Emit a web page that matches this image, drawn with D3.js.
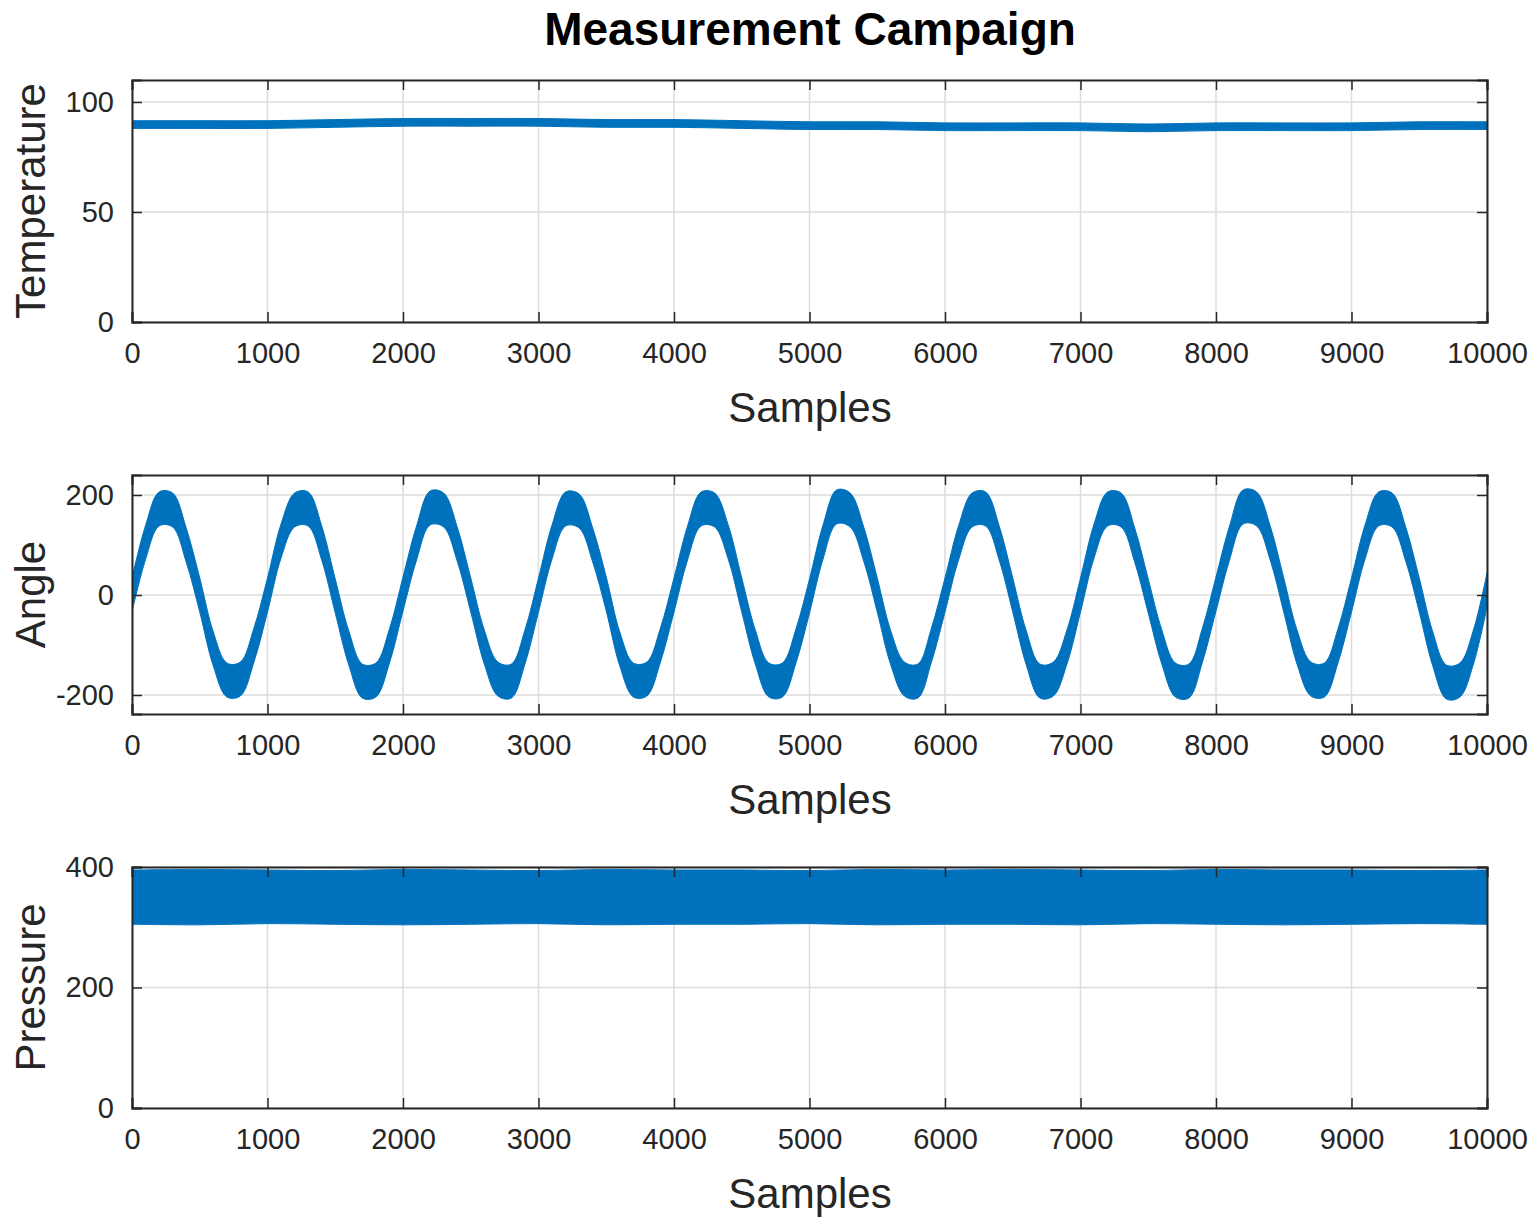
<!DOCTYPE html>
<html><head><meta charset="utf-8">
<script src="https://cdn.jsdelivr.net/npm/d3@7"></script>
<style>body{margin:0;background:#fff}svg{font-family:"Liberation Sans",Arial,sans-serif}</style>
</head><body><svg id="c" width="1537" height="1222"></svg>
<script>
// samples at which the band values below were read (every 500 samples for temp/pressure, 100 for angle)
const coarseX = d3.range(0, 10001, 500);
const tempLow  = [88,88,88,88.5,89,89,89,88.5,88.5,88,87.5,87.5,87,87,87,86.5,87,87,87,87.5,87.5];
const tempHigh = [91.5,91.5,91.5,92,92.5,92.5,92.5,92,92,91.5,91,91,90.5,90.5,90.5,90,90.5,90.5,90.5,91,91];
const pressLow  = [305,304,306,305,304,305,306,304,305,305,306,304,305,305,304,306,305,304,305,306,305];
const pressHigh = [395,396,395,394,396,395,394,396,395,395,394,396,395,396,395,394,396,395,395,394,395];
const angleX = d3.range(0, 10001, 100);
const angleMid = [
  0,105,172,170,100,0,-108,-170,-168,-100,
  0,108,170,172,104,-2,-106,-172,-170,-102,
  2,104,174,170,102,0,-104,-168,-172,-104,
  0,106,172,168,100,2,-108,-170,-168,-100,
  0,104,172,170,106,0,-104,-170,-170,-102,
  -2,106,176,170,102,0,-106,-168,-172,-100,
  0,104,170,172,104,0,-106,-172,-168,-104,
  0,108,172,170,100,-2,-104,-170,-172,-100,
  2,104,176,172,104,0,-106,-168,-170,-102,
  0,106,172,170,102,0,-108,-174,-170,-104,
  10];
const angleSpread = 34;
const xTicks = d3.range(0, 10001, 1000);

const blue = '#0072BD';
const svg = d3.select('#c');
svg.append('text').attr('x', 810).attr('y', 45).attr('text-anchor', 'middle')
  .attr('font-size', 46).attr('font-weight', 'bold').text('Measurement Campaign');

const panels = [
  { top: 80, bottom: 322, domain: [0, 110], ticks: [0, 50, 100], label: 'Temperature',
    band: coarseX.map((x, i) => ({ x, lo: tempLow[i], hi: tempHigh[i] })) },
  { top: 475, bottom: 714, domain: [-238, 240], ticks: [-200, 0, 200], label: 'Angle',
    band: angleX.map((x, i) => ({ x, lo: angleMid[i] - angleSpread, hi: angleMid[i] + angleSpread })) },
  { top: 867, bottom: 1108, domain: [0, 400], ticks: [0, 200, 400], label: 'Pressure',
    band: coarseX.map((x, i) => ({ x, lo: pressLow[i], hi: pressHigh[i] })) },
];
const L = 132, R = 1487;
const x = d3.scaleLinear().domain([0, 10000]).range([L, R]);

panels.forEach(p => {
  const y = d3.scaleLinear().domain(p.domain).range([p.bottom, p.top]);
  const g = svg.append('g');
  const H = p.bottom - p.top, W = R - L;
  g.append('g').selectAll('line').data(xTicks).join('line')
    .attr('x1', d => x(d)).attr('x2', d => x(d)).attr('y1', p.top).attr('y2', p.bottom)
    .attr('stroke', '#dcdcdc').attr('stroke-width', 1.5);
  g.append('g').selectAll('line').data(p.ticks).join('line')
    .attr('x1', L).attr('x2', R).attr('y1', d => y(d)).attr('y2', d => y(d))
    .attr('stroke', '#dcdcdc').attr('stroke-width', 1.5);
  const clipId = 'clip' + p.label;
  svg.append('clipPath').attr('id', clipId).append('rect')
    .attr('x', L).attr('y', p.top).attr('width', W).attr('height', H);
  const area = d3.area().x(d => x(d.x)).y0(d => y(d.lo)).y1(d => y(d.hi)).curve(d3.curveCatmullRom);
  g.append('path').datum(p.band).attr('d', area).attr('fill', blue)
    .attr('stroke', blue).attr('stroke-width', 1).attr('clip-path', `url(#${clipId})`);
  g.append('g').attr('transform', `translate(0,${p.bottom})`)
    .call(d3.axisBottom(x).tickValues(xTicks).tickSize(-10).tickPadding(20).tickFormat(String));
  g.append('g').attr('transform', `translate(0,${p.top})`)
    .call(d3.axisTop(x).tickValues(xTicks).tickSize(-10).tickFormat(''));
  g.append('g').attr('transform', `translate(${L},0)`)
    .call(d3.axisLeft(y).tickValues(p.ticks).tickSize(-10).tickPadding(18).tickFormat(String));
  g.append('g').attr('transform', `translate(${R},0)`)
    .call(d3.axisRight(y).tickValues(p.ticks).tickSize(-10).tickFormat(''));
  g.selectAll('.domain').attr('stroke', '#262626').attr('stroke-width', 2);
  g.selectAll('.tick line').attr('stroke', '#262626').attr('stroke-width', 1.5);
  g.selectAll('.tick text').attr('font-size', 29).attr('fill', '#262626')
    .attr('font-family', '"Liberation Sans",Arial,sans-serif');
  g.append('text').attr('x', 810).attr('y', p.bottom + 100).attr('text-anchor', 'middle')
    .attr('font-size', 42).attr('fill', '#262626').text('Samples');
  g.append('text').attr('transform', `translate(45,${(p.top + p.bottom) / 2}) rotate(-90)`)
    .attr('text-anchor', 'middle').attr('font-size', 42).attr('fill', '#262626').text(p.label);
});
</script></body></html>
